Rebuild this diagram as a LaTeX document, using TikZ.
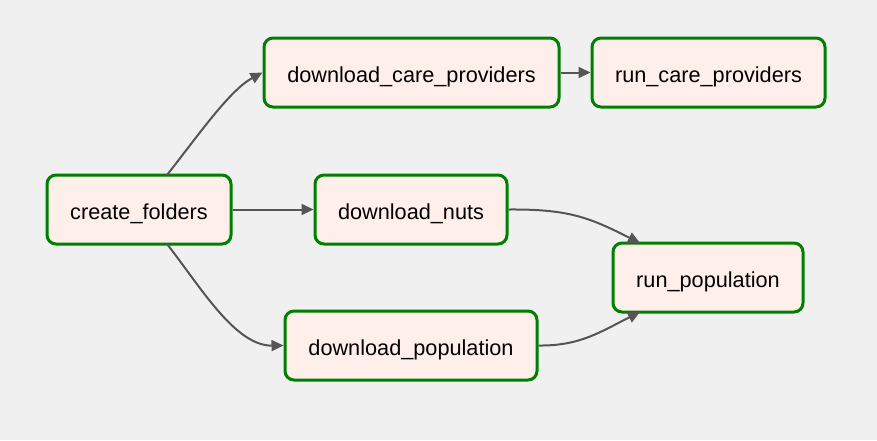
\documentclass[tikz,border=0pt]{standalone}
\usepackage{fontspec}
\setmainfont{Liberation Sans}
\usetikzlibrary{arrows.meta}
\definecolor{bg}{HTML}{F0F0F0}
\definecolor{nodefill}{HTML}{FFEFEB}
\definecolor{nodeborder}{HTML}{008000}
\definecolor{edgecol}{HTML}{555555}
\begin{document}
\begin{tikzpicture}[x=1pt,y=-1pt,
  task/.style={draw=nodeborder, fill=nodefill, line width=3pt, rounded corners=9pt,
    minimum height=69pt, inner sep=0pt, text height=19pt, text depth=0pt,
    font=\fontsize{21.7}{26}\selectfont, text=black},
  conn/.style={draw=edgecol, line width=2pt, -{Triangle[length=12pt,width=11pt]}}]
\fill[bg] (0,0) rectangle (877,440);
\useasboundingbox (0,0) rectangle (877,440);
\node[task, minimum width=184pt] (cf) at (139,209.5) {create\_folders};
\node[task, minimum width=295pt] (dcp) at (411.5,72.5) {download\_care\_providers};
\node[task, minimum width=233pt] (rcp) at (708.5,72.5) {run\_care\_providers};
\node[task, minimum width=192pt] (dn) at (411,209.5) {download\_nuts};
\node[task, minimum width=190pt] (rp) at (708,277.5) {run\_population};
\node[task, minimum width=252pt] (dp) at (411,345.5) {download\_population};
\coordinate (cfT) at (167,175);
\coordinate (cfB) at (167,244);
\path[conn] (cfT) .. controls (200,133) and (230,90) .. (dcp.west);
\path[conn] (cf.east) -- (dn.west);
\path[conn] (cfB) .. controls (200,286) and (235,346) .. (dp.west);
\path[conn] (dcp.east) -- (rcp.west);
\coordinate (rpT) at (640,243);
\coordinate (rpB) at (640,312);
\path[conn] (dn.east) .. controls (570,209) and (590,218) .. (rpT);
\path[conn] (dp.east) .. controls (580,346) and (600,332) .. (rpB);
\end{tikzpicture}
\end{document}
